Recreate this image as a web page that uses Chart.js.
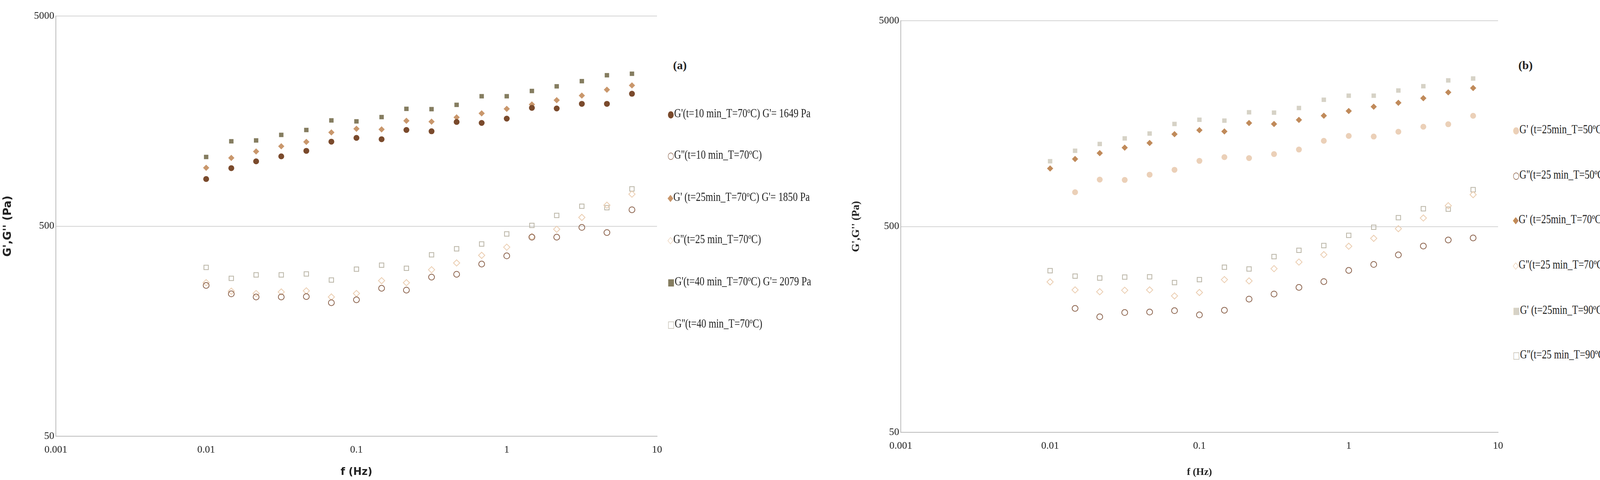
<!DOCTYPE html>
<html><head><meta charset="utf-8">
<script src="https://cdn.jsdelivr.net/npm/chart.js@4"></script>
<style>
body{margin:0;width:4342px;height:1228px;background:#fff;position:relative;overflow:hidden;font-family:"Liberation Serif",serif}
canvas{position:absolute;top:0}
.lg{position:absolute;font-size:31px;color:#222;white-space:nowrap;transform:scaleX(0.8);transform-origin:left center}
.tag{position:absolute;font-size:30px;font-weight:bold;color:#222}
</style></head><body>
<div style="position:absolute;left:0;top:0;width:1720px;height:1228px"><canvas id="ca"></canvas></div>
<div style="position:absolute;left:2171px;top:0;width:1700px;height:1228px"><canvas id="cb"></canvas></div>
<div id="legends"></div>
<script>
const freq = [0.01,0.0147,0.0215,0.0316,0.0464,0.0681,0.1,0.147,0.215,0.316,0.464,0.681,1,1.47,2.15,3.16,4.64,6.81];
const yTicks = [50,500,5000];
const xTicks = [0.001,0.01,0.1,1,10];

// panel (a)
const gp10 = [838,944,1017,1074,1141,1262,1315,1296,1434,1414,1566,1549,1624,1828,1815,1910,1910,2133];
const gpp10 = [261,238,230,230,231,216,223,253,248,286,295,330,361,443,443,493,466,598];
const gp25 = [948,1056,1133,1200,1259,1396,1453,1444,1587,1571,1647,1721,1808,1896,1988,2090,2229,2337];
const gpp25 = [269,245,239,243,246,230,239,275,269,310,334,363,397,446,483,550,629,710];
const gp40 = [1067,1267,1279,1359,1434,1593,1576,1652,1808,1802,1889,2076,2076,2199,2314,2449,2613,2656];
const gpp40 = [318,282,293,293,296,277,312,326,315,365,390,411,459,504,562,622,612,752];

// panel (b) - 50ºC has no point at 0.01 Hz
const gp50 = [null,734,845,842,893,943,1042,1087,1075,1124,1183,1304,1378,1368,1444,1527,1570,1726];
const gpp50 = [null,200,182,191,192,195,186,196,222,235,253,270,306,327,364,402,430,440];
const gp70 = [957,1064,1136,1208,1273,1405,1469,1449,1592,1575,1649,1727,1820,1910,1996,2102,2243,2354];
const gpp70 = [269,246,241,245,246,230,239,276,272,312,336,365,401,438,488,550,631,714];
const gp90 = [1038,1167,1259,1340,1415,1575,1651,1635,1795,1788,1883,2065,2161,2161,2290,2403,2564,2619];
const gpp90 = [305,287,281,284,285,267,276,317,311,357,383,404,453,496,552,610,607,755];

const labelsA = ["G'(t=10 min_T=70ºC) G'= 1649 Pa","G''(t=10 min_T=70ºC)","G' (t=25min_T=70ºC) G'= 1850 Pa","G''(t=25 min_T=70ºC)","G'(t=40 min_T=70ºC) G'= 2079 Pa","G''(t=40 min_T=70ºC)"];
const labelsB = ["G' (t=25min_T=50ºC) G'= 1320 Pa","G''(t=25 min_T=50ºC)","G' (t=25min_T=70ºC) G'= 1850 Pa","G''(t=25 min_T=70ºC)","G' (t=25min_T=90ºC) G'= 2167 Pa","G''(t=25 min_T=90ºC)"];

function pts(arr) {
    const out = [];
    arr.forEach((v, i) => { if (v !== null) out.push({x: freq[i], y: v}); });
    return out;
}

function ds(label, arr, style, color, filled) {
    const r = style === 'circle' ? 7.5 : 8;
    return {
        label: label, data: pts(arr), pointStyle: style, pointRadius: r,
        backgroundColor: filled ? color : 'rgba(0,0,0,0)',
        borderColor: color, borderWidth: filled ? 0 : 2, showLine: false
    };
}

function makeChart(id, datasets, pad, yW, xH, titleFont) {
    const tick = {family: 'Liberation Serif', size: 26};
    new Chart(document.getElementById(id), {
        type: 'scatter',
        data: {datasets: datasets},
        options: {
            responsive: true, maintainAspectRatio: false, animation: false,
            layout: {padding: pad},
            plugins: {legend: {display: false}, tooltip: {enabled: false}},
            scales: {
                x: {
                    type: 'logarithmic', min: 0.001, max: 10,
                    afterBuildTicks: s => { s.ticks = xTicks.map(v => ({value: v})); },
                    afterFit: s => { s.height = xH; },
                    ticks: {color: '#222', font: tick, padding: 12, callback: v => String(v)},
                    grid: {display: false},
                    border: {color: '#bbb', width: 2},
                    title: {display: true, text: 'f (Hz)', color: '#222', font: {family: titleFont, size: 26, weight: 'bold'}}
                },
                y: {
                    type: 'logarithmic', min: 50, max: 5000,
                    afterBuildTicks: s => { s.ticks = yTicks.map(v => ({value: v})); },
                    afterFit: s => { s.width = yW; },
                    ticks: {color: '#222', font: tick, padding: 4, callback: v => String(v)},
                    grid: {color: '#d4d4d4', lineWidth: 2, drawTicks: false},
                    border: {color: '#bbb', width: 2},
                    title: {display: true, text: "G',G'' (Pa)", color: '#222', font: {family: titleFont, size: 28, weight: 'bold'}}
                }
            }
        }
    });
}

makeChart('ca', [
    ds(labelsA[0], gp10, 'circle', '#7a4a2c', true),
    ds(labelsA[1], gpp10, 'circle', '#8e6650', false),
    ds(labelsA[2], gp25, 'rectRot', '#c9976c', true),
    ds(labelsA[3], gpp25, 'rectRot', '#ebcdb0', false),
    ds(labelsA[4], gp40, 'rect', '#857d60', true),
    ds(labelsA[5], gpp40, 'rect', '#bab5a6', false)
], {top: 41, right: 38, bottom: 0, left: 0}, 143, 112, 'DejaVu Sans');

makeChart('cb', [
    ds(labelsB[0], gp50, 'circle', '#ebd0b8', true),
    ds(labelsB[1], gpp50, 'circle', '#8e6650', false),
    ds(labelsB[2], gp70, 'rectRot', '#c08a5a', true),
    ds(labelsB[3], gpp70, 'rectRot', '#ebcdb0', false),
    ds(labelsB[4], gp90, 'rect', '#d6d2c6', true),
    ds(labelsB[5], gpp90, 'rect', '#bab5a6', false)
], {top: 53, right: 36, bottom: 0, left: 0}, 135, 122, 'Liberation Serif');

// legends as text
const symbols = [['●','#7a4a2c'],['○','#8e6650'],['◆','#c9976c'],['◇','#ebcdb0'],['■','#857d60'],['□','#bab5a6']];
const symbolsB = [['●','#ebd0b8'],['○','#8e6650'],['◆','#c08a5a'],['◇','#ebcdb0'],['■','#d6d2c6'],['□','#bab5a6']];
const legYA = [291,397,505,613,721,829];
const legYB = [332,448,562,678,794,908];
const box = document.getElementById('legends');
function addLegend(x, ys, labels, syms, tag) {
    box.insertAdjacentHTML('beforeend', `<div class="tag" style="left:${x - 8}px;top:150px">${tag}</div>`);
    labels.forEach((t, i) => {
        box.insertAdjacentHTML('beforeend',
            `<div class="lg" style="left:${x - 22}px;top:${ys[i] - 19}px"><span style="color:${syms[i][1]};font-family:'DejaVu Sans';font-size:24px">${syms[i][0]}</span>${t}</div>`);
    });
}
addLegend(1731, legYA, labelsA, symbols, '(a)');
addLegend(3895, legYB, labelsB, symbolsB, '(b)');
</script>
</body></html>
